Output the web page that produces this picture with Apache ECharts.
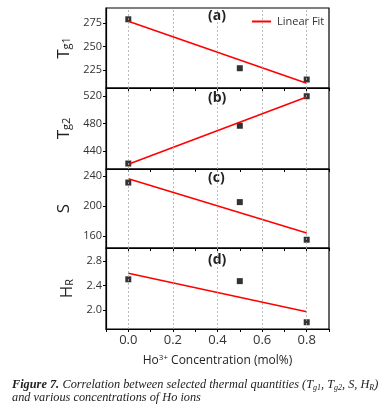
<!DOCTYPE html>
<html>
<head>
<meta charset="utf-8">
<script src="https://cdn.jsdelivr.net/npm/echarts@6/dist/echarts.min.js"></script>
<style>
  html, body { margin: 0; padding: 0; background: #fff; }
  #chart { width: 389px; height: 414px; }
</style>
</head>
<body>
<div id="chart"></div>
<script>
// Ho3+ concentration (mol%)
const conc = [0.0, 0.5, 0.8]
const fitX = [0.0, 0.8]
const xTicks = [0.0, 0.2, 0.4, 0.6, 0.8]

// measured values + linear fit end points
const tg1 = [279, 227, 215]
const tg1Fit = [277, 211]
const tg2 = [422, 477, 520]
const tg2Fit = [421, 519]
const sVals = [231, 205, 155]
const sFit = [236, 164]
const hr = [2.50, 2.47, 1.80]
const hrFit = [2.60, 1.97]

const panels = [
  { name: 'T{sub|g1}', label: '(a)', data: tg1, fit: tg1Fit, min: 206, max: 291, ticks: [225, 250, 275], top: 8, height: 80 },
  { name: 'T{sub|g2}', label: '(b)', data: tg2, fit: tg2Fit, min: 414, max: 532, ticks: [440, 480, 520], top: 88, height: 81 },
  { name: 'S', label: '(c)', data: sVals, fit: sFit, min: 144, max: 249, ticks: [160, 200, 240], top: 169, height: 79 },
  { name: 'H{sub|R}', label: '(d)', data: hr, fit: hrFit, min: 1.69, max: 3.01, ticks: [2.0, 2.4, 2.8], top: 248, height: 81, dec: 1 },
]

const font = "'Open Sans', 'Noto Sans', sans-serif"
const labelY = [18, 100, 180, 262]

const option = {
  animation: false,
  textStyle: { fontFamily: font },
  legend: {
    data: ['Linear Fit'],
    icon: 'rect',
    left: 247,
    top: 11,
    itemWidth: 19,
    itemHeight: 2,
    itemGap: 4,
    textStyle: { fontSize: 11, color: '#333', fontFamily: font, padding: [0, 0, 0, 1] }
  },
  grid: panels.map(p => ({
    left: 106, right: 60, top: p.top, height: p.height,
    show: true, borderColor: '#000', borderWidth: 1.2
  })),
  xAxis: panels.map((p, i) => ({
    type: 'value',
    gridIndex: i,
    min: -0.1,
    max: 0.9,
    interval: 0.1,
    axisLine: { show: true, onZero: false, lineStyle: { color: '#000', width: 1.2 } },
    axisTick: { show: true, length: 3, lineStyle: { color: '#000' } },
    splitLine: { show: false },
    axisLabel: {
      show: i === 3,
      fontSize: 13,
      color: '#333',
      margin: 5,
      formatter: v => Math.round(v * 10) % 2 === 0 && v >= 0 ? v.toFixed(1) : ''
    },
    name: i === 3 ? 'Ho{sup|3+} Concentration (mol%)' : '',
    nameLocation: 'middle',
    nameGap: 25,
    nameTextStyle: {
      fontSize: 12, color: '#222',
      rich: { sup: { fontSize: 8, verticalAlign: 'top', padding: [0, 0, 6, 0], color: '#222' } }
    }
  })),
  yAxis: panels.map((p, i) => ({
    type: 'value',
    gridIndex: i,
    min: p.min,
    max: p.max,
    axisLine: { show: true, onZero: false, lineStyle: { color: '#000', width: 1.2 } },
    axisTick: { show: true, length: 3, customValues: p.ticks, lineStyle: { color: '#000' } },
    splitLine: { show: false },
    axisLabel: {
      fontSize: 11, color: '#333', margin: 4,
      customValues: p.ticks,
      formatter: v => p.dec ? v.toFixed(p.dec) : String(v)
    },
    name: p.name,
    nameLocation: 'middle',
    nameRotate: 90,
    nameGap: 27,
    nameTextStyle: {
      fontSize: 17, color: '#222',
      rich: { sub: { fontSize: 11, verticalAlign: 'bottom', padding: [6, 0, 0, 0], color: '#222' } }
    }
  })),
  series: panels.flatMap((p, i) => [
    {
      name: 'Data',
      type: 'scatter',
      xAxisIndex: i, yAxisIndex: i,
      symbol: 'rect', symbolSize: 6,
      itemStyle: { color: '#000' },
      data: conc.map((c, k) => [c, p.data[k]]),
      markLine: {
        silent: true, symbol: 'none',
        label: { show: false },
        lineStyle: { color: '#aaa', type: [2, 2], width: 0.8 },
        data: xTicks.map(v => ({ xAxis: v }))
      },
      z: 3
    },
    {
      name: 'Linear Fit',
      type: 'line',
      xAxisIndex: i, yAxisIndex: i,
      symbol: 'none',
      lineStyle: { color: '#f00', width: 1.6 },
      itemStyle: { color: '#f00' },
      data: fitX.map((c, k) => [c, p.fit[k]]),
      z: 4
    }
  ]),
  graphic: [
    ...panels.map((p, i) => ({
      type: 'text', left: 208, top: labelY[i] - 9,
      style: { text: p.label, font: "bold 14px " + font, fill: '#222' }
    })),
    {
      type: 'text', left: 12, top: 379,
      style: {
        text: '{b|Figure 7.} {i|Correlation between selected thermal quantities (T}{s|g1}{i|, T}{s|g2}{i|, S, H}{s|R}{i|)}\n{i|and various concentrations of Ho ions}',
        rich: {
          b: { font: "italic bold 12.3px 'Liberation Serif'", fill: '#222', lineHeight: 13 },
          i: { font: "italic 12.3px 'Liberation Serif'", fill: '#222', lineHeight: 13 },
          s: { font: "italic 8px 'Liberation Serif'", fill: '#222', verticalAlign: 'bottom', lineHeight: 13 }
        }
      }
    }
  ]
}

const chart = echarts.init(document.getElementById('chart'))
chart.setOption(option)
</script>
</body>
</html>
